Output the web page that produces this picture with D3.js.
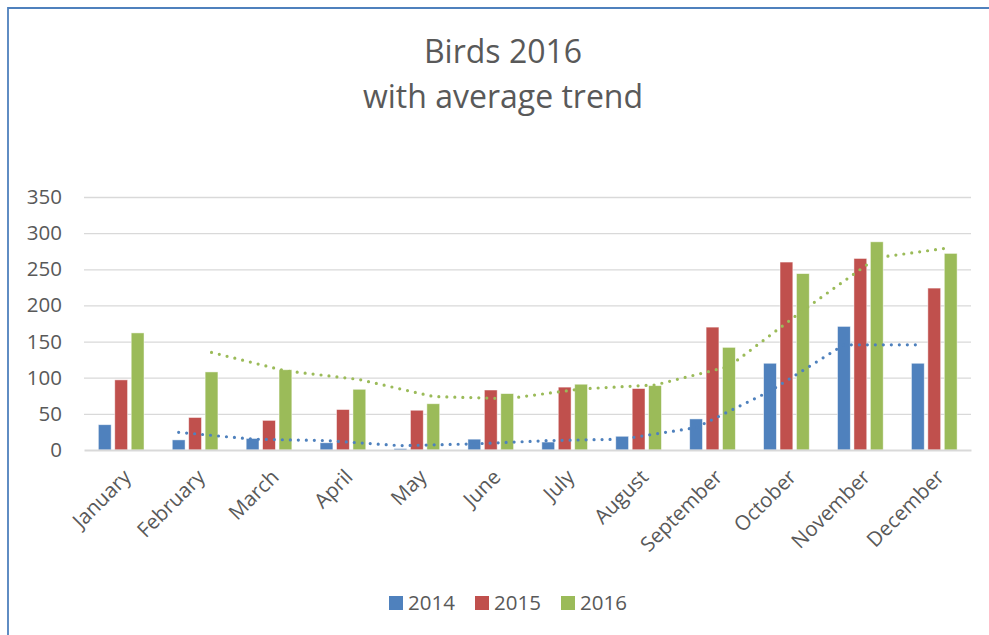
<!DOCTYPE html>
<head>
  <meta charset="utf-8">
  <style>
    body { margin: 0; background: #fff; }
    text { font-family: "Open Sans", sans-serif; fill: #595959; }
    .grid line { stroke: #d9d9d9; stroke-width: 1.3; }
    .trend { fill: none; stroke-width: 3.2; stroke-linecap: round; stroke-dasharray: 0 8; }
  </style>
  <script src="https://d3js.org/d3.v7.min.js"></script>
</head>

<body>
  <div id="content"></div>
  <script>
  // data
  var months = ["January", "February", "March", "April", "May", "June",
                "July", "August", "September", "October", "November", "December"];
  var years = ["2014", "2015", "2016"];
  var birds2014 = [35, 14, 16, 10, 2, 15, 11, 19, 43, 120, 171, 120];
  var birds2015 = [97, 45, 41, 56, 55, 83, 87, 85, 170, 260, 265, 224];
  var birds2016 = [162, 108, 111, 84, 64, 78, 91, 89, 142, 244, 288, 272];
  // moving average trend lines, February to December
  var trendMonths = months.slice(1);
  var trend2014 = [24.5, 15, 13, 6, 8.5, 13, 15, 31, 81.5, 145.5, 145.5];
  var trend2016 = [135, 109.5, 97.5, 74, 71, 84.5, 90, 115.5, 193, 266, 280];
  var yTicks = [0, 50, 100, 150, 200, 250, 300, 350];
  var colors = ["#4f81bd", "#c0504d", "#9bbb59"];

  var seriesValues = [birds2014, birds2015, birds2016];

  var W = 989, H = 635;
  var plot = {left: 84, right: 971, top: 197, bottom: 450};

  var svg = d3.select("#content").append("svg")
      .attr("width", W)
      .attr("height", H);

  // chart area border (only top and left are visible)
  svg.append("path")
      .attr("d", "M8," + H + "V8H" + W)
      .attr("fill", "none")
      .attr("stroke", "#4f81bd")
      .attr("stroke-width", 1.8);

  // title
  var title = svg.append("text")
      .attr("text-anchor", "middle")
      .style("font-size", "32px");
  title.append("tspan").attr("x", 503).attr("y", 63).text("Birds 2016");
  title.append("tspan").attr("x", 503).attr("y", 108).text("with average trend");

  var x0 = d3.scaleBand()
      .domain(months)
      .range([plot.left, plot.right])
      .padding(0);

  var x1 = d3.scaleBand()
      .domain(years)
      .range([x0.bandwidth() * 0.194, x0.bandwidth() * 0.812])
      .paddingInner(0.22);

  var y = d3.scaleLinear()
      .domain([0, 350])
      .range([plot.bottom, plot.top]);

  // gridlines
  svg.append("g")
      .attr("class", "grid")
      .attr("transform", "translate(" + plot.left + ",0)")
      .call(d3.axisRight(y).tickValues(yTicks.slice(1)).tickSize(plot.right - plot.left).tickFormat(""))
      .call(function(g) { g.select(".domain").remove(); });

  // y axis labels
  svg.append("g")
      .attr("transform", "translate(" + (plot.left - 22) + ",0)")
      .call(d3.axisLeft(y).tickValues(yTicks).tickSize(0).tickPadding(0))
      .call(function(g) {
        g.select(".domain").remove();
        g.selectAll(".tick text")
          .attr("fill", "#595959")
          .style("font-family", "'Open Sans', sans-serif")
          .style("font-size", "20.5px");
      });

  // bars
  var groups = svg.append("g").selectAll("g")
      .data(months)
    .join("g")
      .attr("transform", function(d) { return "translate(" + x0(d) + ",0)"; });

  groups.selectAll("rect")
      .data(function(m, i) {
        return years.map(function(yr, k) { return {year: yr, k: k, value: seriesValues[k][i]}; });
      })
    .join("rect")
      .attr("x", function(d) { return x1(d.year); })
      .attr("width", x1.bandwidth())
      .attr("y", function(d) { return y(d.value); })
      .attr("height", function(d) { return y(0) - y(d.value); })
      .attr("fill", function(d) { return colors[d.k]; })
      .attr("stroke", "#ffffff")
      .attr("stroke-opacity", 0.6)
      .attr("stroke-width", 0.8);

  // x axis line
  svg.append("g")
      .attr("transform", "translate(0," + plot.bottom + ")")
      .call(d3.axisBottom(x0).tickSize(0).tickFormat(""))
      .call(function(g) {
        g.select(".domain").attr("stroke", "#d9d9d9").attr("stroke-width", 1.8);
      });

  // x labels, rotated
  svg.append("g").selectAll("text")
      .data(months)
    .join("text")
      .attr("transform", function(d) {
        return "translate(" + (x0(d) + x0.bandwidth() / 2 + 1) + "," + (plot.bottom + 18) + ") rotate(-45)";
      })
      .attr("text-anchor", "end")
      .attr("dy", "0.71em")
      .style("font-size", "20.5px")
      .text(function(d) { return d; });

  // trend lines, drawn through each series' bar centres
  function trendLine(yr) {
    return d3.line()
      .x(function(d) { return x0(d.month) + x1(yr) + x1.bandwidth() / 2; })
      .y(function(d) { return y(d.value); });
  }
  [[trend2014, "2014", colors[0]], [trend2016, "2016", colors[2]]].forEach(function(t) {
    var pts = trendMonths.map(function(m, i) { return {month: m, value: t[0][i]}; });
    svg.append("path")
        .datum(pts)
        .attr("class", "trend")
        .attr("stroke", t[2])
        .attr("d", trendLine(t[1]));
  });

  // legend
  var legend = svg.append("g")
      .attr("transform", "translate(389,596)");
  var item = legend.selectAll("g")
      .data(years)
    .join("g")
      .attr("transform", function(d, i) { return "translate(" + (i * 86) + ",0)"; });
  item.append("rect")
      .attr("width", 14)
      .attr("height", 14)
      .attr("fill", function(d, i) { return colors[i]; });
  item.append("text")
      .attr("x", 19)
      .attr("y", 14)
      .style("font-size", "20.5px")
      .text(function(d) { return d; });
  </script>
</body>
</html>
